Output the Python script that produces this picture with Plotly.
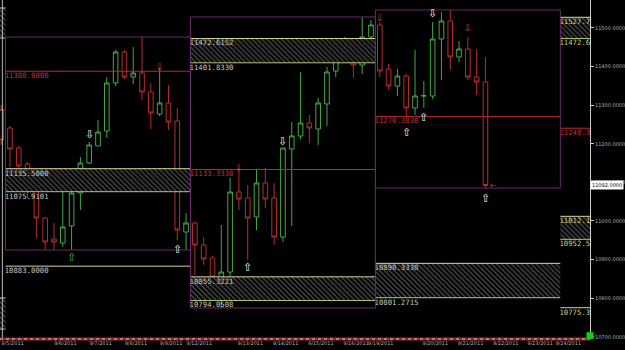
import plotly.graph_objects as go

# ---------------- data ----------------
bar_index = list(range(1, 57))
opens = [11287.5, 11240.9, 11189.1, 11147.6, 11080.3, 11007.7, 10953.3, 10943.0, 10987.0, 11072.5,
         11150.2, 11194.3, 11233.1, 11357.5, 11437.8, 11373.0, 11383.4, 11334.2, 11277.2, 11305.7,
         11259.0, 10971.5, 10994.8, 10937.8, 10904.1, 10829.0, 10867.8, 11075.1, 11059.5, 11010.3,
         11098.4, 11059.5, 10958.5, 11186.5, 11220.2, 11253.8, 11238.3, 11303.1, 11388.6, 11437.8,
         11450.7, 11404.1, 11476.6, 11507.7, 11393.7, 11349.7, 11375.6, 11292.7, 11323.8, 11323.8,
         11471.5, 11518.1, 11424.8, 11445.6, 11373.0, 11360.1]
highs = [11300.5, 11246.1, 11194.3, 11152.8, 11085.4, 11010.3, 10994.8, 11111.4, 11080.3, 11165.8,
         11204.6, 11261.6, 11373.0, 11443.0, 11443.0, 11450.7, 11476.6, 11357.5, 11396.3, 11352.3,
         11292.7, 11020.7, 10999.0, 10958.5, 10910.0, 10989.6, 11111.4, 11137.3, 11093.2, 11132.1,
         11137.3, 11098.4, 11189.1, 11256.4, 11386.0, 11274.6, 11318.6, 11398.9, 11471.5, 11476.6,
         11455.9, 11528.5, 11520.7, 11515.5, 11406.7, 11393.7, 11380.8, 11443.0, 11362.7, 11515.5,
         11541.4, 11546.6, 11466.3, 11476.6, 11445.6, 11424.8]
lows = [11196.8, 11139.9, 11137.3, 11059.5, 10955.9, 10924.8, 10924.8, 10932.6, 10924.8, 11028.5,
        11147.6, 11194.3, 11215.0, 11349.7, 11367.8, 11354.9, 11313.4, 11238.3, 11272.0, 11235.7,
        10950.7, 10924.8, 10860.1, 10886.0, 10795.3, 10774.6, 10842.0, 11028.5, 10898.9, 10976.6,
        11033.6, 10937.8, 10945.5, 10987.0, 11212.4, 11202.0, 11196.8, 11246.1, 11373.0, 11422.2,
        11370.4, 11380.8, 11468.0, 11373.0, 11339.3, 11323.8, 11269.4, 11274.6, 11292.7, 11316.0,
        11365.2, 11391.2, 11411.9, 11365.2, 11326.4, 11085.4]
closes = [11209.8, 11186.5, 11142.4, 11080.3, 11007.7, 10945.5, 10945.5, 10984.4, 11072.5, 11150.2,
          11196.8, 11230.5, 11357.5, 11437.8, 11373.0, 11383.4, 11334.2, 11279.8, 11305.7, 11256.4,
          10976.6, 10994.8, 10937.8, 10901.5, 10855.0, 10867.8, 11075.1, 11057.0, 11007.7, 11098.4,
          11057.0, 10958.5, 11189.1, 11220.2, 11253.8, 11240.9, 11305.7, 11386.0, 11440.4, 11461.1,
          11404.1, 11476.6, 11507.7, 11388.6, 11349.7, 11375.6, 11292.7, 11323.8, 11324.6, 11471.5,
          11518.1, 11424.8, 11445.6, 11373.0, 11360.1, 11092.0]

# date axis labels (positions in bar units)
date_pos = [2.3, 8.3, 12.3, 16.3, 20.3, 23.5, 29.3, 33.3, 37.3, 41.3, 44.1, 50.3, 54.3, 58.3, 62.2, 65.4]
date_labels = ["9/5/2011", "9/6/2011", "9/7/2011", "9/8/2011", "9/9/2011", "9/12/2011", "9/13/2011",
               "9/14/2011", "9/15/2011", "9/16/2011", "9/19/2011", "9/20/2011", "9/21/2011",
               "9/22/2011", "9/23/2011", "9/24/2011"]

price_ticks = [10700, 10800, 10900, 11000, 11100, 11200, 11300, 11400, 11500]

# session windows (bar units)
window_start = [1.5, 22.5, 43.5, 64.5]
window_end = [22.5, 43.5, 64.5, 70.0]

# hatched zones: window index, top, bottom, top label, bottom label
zone_window = [0, 1, 1, 2, 3, 3]
zone_top = [11135.5, 11472.6152, 10855.3221, 10890.3330, 11527.7, 11012.1]
zone_bottom = [11075.9101, 11409.8330, 10794.0508, 10801.2715, 11472.6, 10952.5]
zone_top_label = ["11135.5000", "11472.6152", "10855.3221", "10890.3330", "11527.7", "11012.1"]
zone_bottom_label = ["11075.9101", "11401.8330", "10794.0508", "10801.2715", "11472.6", "10952.5"]

# single level lines: window index, value, label, kind
line_window = [0, 0, 1, 2, 3, 3]
line_value = [11388.0, 10883.0, 11133.3330, 11270.3830, 11240.3, 10775.3]
line_label = ["11388.0000", "10883.0000", "11133.3330", "11270.3830", "11240.3", "10775.3"]
line_kind = ["red", "yellow", "red", "red", "red", "yellow"]

# signal arrows
arrow_bar = [11, 9, 19, 21, 28, 29, 33, 44, 47, 49, 50, 54, 56]
arrow_price = [11222.8, 10906.7, 11398.9, 10927.4, 11137.3, 10880.8, 11207.2, 11525.9, 11228.0,
               11269.4, 11538.8, 11500.0, 11059.5]
arrow_dir = ["down", "up", "down", "up", "down", "up", "down", "down", "up", "up", "down", "down", "up"]
arrow_color = ["white", "green", "red", "white", "red", "white", "white", "red", "white", "white",
               "white", "red", "white"]

last_price = closes[-1]

# ---------------- styling ----------------
Y_MIN, Y_MAX = 10694.3, 11572.5
X_MIN, X_MAX = 0.87, 67.87
PLOT_H = 339
ppp = (Y_MAX - Y_MIN) / PLOT_H  # price per pixel

GREEN = "#44a844"
RED = "#b82c2c"
PURPLE = "#6a2a6c"
ZONE_TOP = "#d8d89c"
ZONE_BOT = "#a8cc78"
LABEL = "#c8c8c8"
MONO = "DejaVu Sans Mono"
HATCH = dict(shape="\\", fgcolor="#9c9c9c", bgcolor="black", size=3.5, solidity=0.35)

fig = go.Figure()
shapes = []

def add_zone(x0, x1, t, b):
    fig.add_trace(go.Scatter(
        x=[x0, x1, x1, x0, x0], y=[t, t, b, b, t], mode="lines", line=dict(width=0),
        fill="toself", fillcolor="black", fillpattern=HATCH,
        hoverinfo="skip", showlegend=False))
    shapes.append(dict(type="line", x0=x0, x1=x1, y0=t, y1=t, line=dict(color=ZONE_TOP, width=1)))
    shapes.append(dict(type="line", x0=x0, x1=x1, y0=b, y1=b, line=dict(color=ZONE_BOT, width=1)))

for i in range(len(zone_top)):
    w = zone_window[i]
    add_zone(window_start[w], window_end[w], zone_top[i], zone_bottom[i])

# left-edge remnants of earlier zones / lines
for t, b in [(11551.8, 11474.0), (10800.5, 10720.0)]:
    add_zone(0, 1.5, t, b)
shapes.append(dict(type="line", x0=0, x1=1.5, y0=11287.5, y1=11287.5, line=dict(color=RED, width=1)))

# single lines
for i in range(len(line_value)):
    w = line_window[i]
    col = RED if line_kind[i] == "red" else ZONE_TOP
    shapes.append(dict(type="line", x0=window_start[w], x1=window_end[w], y0=line_value[i],
                       y1=line_value[i], line=dict(color=col, width=1)))

# session range boxes (high/low of bars in each window)
for w in range(3):
    sel = [j for j, k in enumerate(bar_index) if window_start[w] < k < window_end[w]]
    hi = max(highs[j] for j in sel)
    lo = min(lows[j] for j in sel)
    shapes.append(dict(type="rect", x0=window_start[w], x1=window_end[w], y0=lo, y1=hi,
                       line=dict(color=PURPLE, width=1)))

# candles
fig.add_trace(go.Candlestick(
    x=bar_index, open=opens, high=highs, low=lows, close=closes,
    increasing=dict(line=dict(color=GREEN, width=1), fillcolor="rgba(0,0,0,0)"),
    decreasing=dict(line=dict(color=RED, width=1), fillcolor="rgba(0,0,0,0)"),
    whiskerwidth=0, showlegend=False, hoverinfo="skip"))

def add_text(x, y, text, color, size):
    fig.add_trace(go.Scatter(x=[x], y=[y], mode="text", text=[text], textposition="middle right",
                             textfont=dict(family=MONO, size=size, color=color),
                             cliponaxis=True, hoverinfo="skip", showlegend=False))

for i in range(len(zone_top)):
    w = zone_window[i]
    right = w == 3
    col_t = "#d0d090" if right else LABEL
    col_b = "#c0d488" if right else LABEL
    add_text(window_start[w] - 0.1, zone_top[i] - 5 * ppp, zone_top_label[i], col_t, 7.3)
    add_text(window_start[w] - 0.1, zone_bottom[i] - 5 * ppp, zone_bottom_label[i], col_b, 7.3)

for i in range(len(line_value)):
    w = line_window[i]
    right = w == 3
    if line_kind[i] == "red":
        col = "#c03030"
    else:
        col = "#c8d090" if right else LABEL
    add_text(window_start[w] - 0.1, line_value[i] - 5 * ppp, line_label[i], col, 7.3)

# arrows
arrow_cols = {"white": "#f0f0f0", "green": "#5aaa5a", "red": "#c84040"}
annotations = []
for k, p, d, c in zip(arrow_bar, arrow_price, arrow_dir, arrow_color):
    annotations.append(dict(x=k, y=p, text="⇩" if d == "down" else "⇧", showarrow=False,
                            font=dict(family="DejaVu Sans", size=11 if c != "red" else 9,
                                      color=arrow_cols[c])))
annotations.append(dict(x=bar_index[-1] + 0.9, y=last_price, text="←", showarrow=False,
                        font=dict(family="DejaVu Sans", size=8, color="#c04040")))

# last price tag
annotations.append(dict(xref="paper", x=1.0, y=last_price, xanchor="left", yanchor="middle",
                        text=f"{last_price:.4f}", showarrow=False, bgcolor="white",
                        font=dict(family="DejaVu Sans", size=5, color="black"), borderpad=1))

# frame decorations
shapes.append(dict(type="line", xref="paper", yref="paper", x0=0.004, x1=0.004, y0=0, y1=1,
                   line=dict(color="#bbbbbb", width=1)))
shapes.append(dict(type="line", xref="paper", yref="paper", x0=0, x1=1, y0=0, y1=0,
                   line=dict(color="#9a2a2a", width=3)))
shapes.append(dict(type="line", xref="paper", yref="paper", x0=0, x1=1, y0=0, y1=0,
                   line=dict(color="#e0c0c0", width=1, dash="dot")))
shapes.append(dict(type="rect", xref="paper", yref="paper", x0=0.994, x1=1.006, y0=0.0,
                   y1=0.02, fillcolor="#10d010", line=dict(width=0)))

fig.update_layout(
    width=625, height=350,
    margin=dict(l=0, r=32, t=0, b=11, pad=0),
    paper_bgcolor="black", plot_bgcolor="black",
    boxgap=0.25,
    shapes=shapes, annotations=annotations, showlegend=False,
    xaxis=dict(range=[X_MIN, X_MAX], rangeslider=dict(visible=False), showgrid=False,
               zeroline=False, tickmode="array", tickvals=date_pos, ticktext=date_labels,
               tickangle=0, tickfont=dict(family="DejaVu Sans", size=5, color="#b0b0b0"),
               ticks="", showline=False),
    yaxis=dict(range=[Y_MIN, Y_MAX], side="right", showgrid=False, zeroline=False,
               tickmode="array", tickvals=price_ticks,
               ticktext=[f"{v:.4f}" for v in price_ticks],
               tickfont=dict(family="DejaVu Sans", size=5, color="#b0b0b0"),
               ticks="outside", ticklen=3, tickcolor="#cccccc",
               showline=True, linecolor="#d0d0d0", linewidth=1),
)

fig.write_html("out.html")
